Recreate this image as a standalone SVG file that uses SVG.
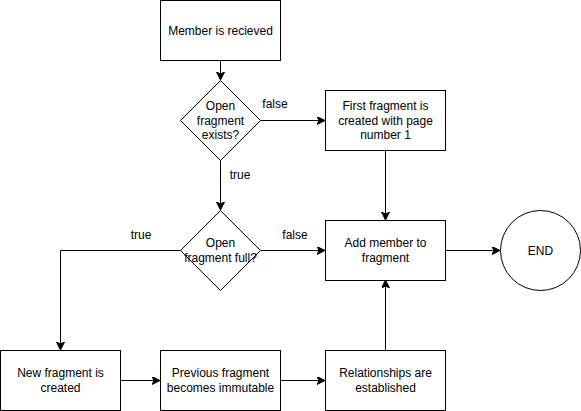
<svg xmlns="http://www.w3.org/2000/svg" width="581" height="411" viewBox="0 0 581 411">
<style>
.n{fill:#fff;stroke:#000;stroke-width:1}
.t{font-family:"Liberation Sans",Arial,sans-serif;font-size:12px;fill:#000;text-anchor:middle;dominant-baseline:central}
.c{fill:none;stroke:#000;stroke-width:1;marker-end:url(#a)}
</style>
<defs>
<marker id="a" markerWidth="10" markerHeight="10" refX="7" refY="4" orient="auto" markerUnits="userSpaceOnUse">
<path d="M0,0 L8,4 L0,8 L2,4 z" fill="#000" stroke="#000" stroke-width="1"/>
</marker>
</defs>
<rect width="581" height="411" fill="#fff"/>
<g id="connectors">
<path class="c" d="M220.5,60.5 V79"/>
<path class="c" d="M220.5,160.5 V209"/>
<path class="c" d="M260.5,120.5 H324"/>
<path class="c" d="M385.5,150.5 V219"/>
<path class="c" d="M260.5,250.5 H324"/>
<path class="c" d="M445.5,250.5 H499"/>
<path class="c" d="M180.5,250.5 H60.5 V349"/>
<path class="c" d="M120.5,380.5 H159"/>
<path class="c" d="M280.5,380.5 H324"/>
<path class="c" d="M385.5,350.5 V281"/>
<text class="t" x="275" y="104">false</text>
<text class="t" x="240" y="175">true</text>
<text class="t" x="141" y="235">true</text>
<text class="t" x="295" y="235">false</text>
</g>
<g id="start">
<rect class="n" x="160.5" y="0.5" width="120" height="60"/>
<text class="t" x="220.5" y="30.5">Member is recieved</text>
</g>
<g id="d1">
<path class="n" d="M220.5,80.5 L260.5,120.5 L220.5,160.5 L180.5,120.5 Z"/>
<text class="t" x="220.5" y="106">Open</text>
<text class="t" x="220.5" y="120.5">fragment</text>
<text class="t" x="220.5" y="135">exists?</text>
</g>
<g id="first">
<rect class="n" x="325.5" y="90.5" width="120" height="60"/>
<text class="t" x="385.5" y="106">First fragment is</text>
<text class="t" x="385.5" y="120.5">created with page</text>
<text class="t" x="385.5" y="135">number 1</text>
</g>
<g id="d2">
<path class="n" d="M220.5,210.5 L260.5,250.5 L220.5,290.5 L180.5,250.5 Z"/>
<text class="t" x="220.5" y="243">Open</text>
<text class="t" x="220.5" y="257.5">fragment full?</text>
</g>
<g id="add">
<rect class="n" x="325.5" y="220.5" width="120" height="60"/>
<text class="t" x="385.5" y="243">Add member to</text>
<text class="t" x="385.5" y="257.5">fragment</text>
</g>
<g id="end">
<circle class="n" cx="540.5" cy="250.5" r="40"/>
<text class="t" x="540.5" y="250.5">END</text>
</g>
<g id="newfrag">
<rect class="n" x="0.5" y="350.5" width="120" height="60"/>
<text class="t" x="60.5" y="373">New fragment is</text>
<text class="t" x="60.5" y="387.5">created</text>
</g>
<g id="prev">
<rect class="n" x="160.5" y="350.5" width="120" height="60"/>
<text class="t" x="220.5" y="373">Previous fragment</text>
<text class="t" x="220.5" y="387.5">becomes immutable</text>
</g>
<g id="rel">
<rect class="n" x="325.5" y="350.5" width="120" height="60"/>
<text class="t" x="385.5" y="373">Relationships are</text>
<text class="t" x="385.5" y="387.5">established</text>
</g>
</svg>
